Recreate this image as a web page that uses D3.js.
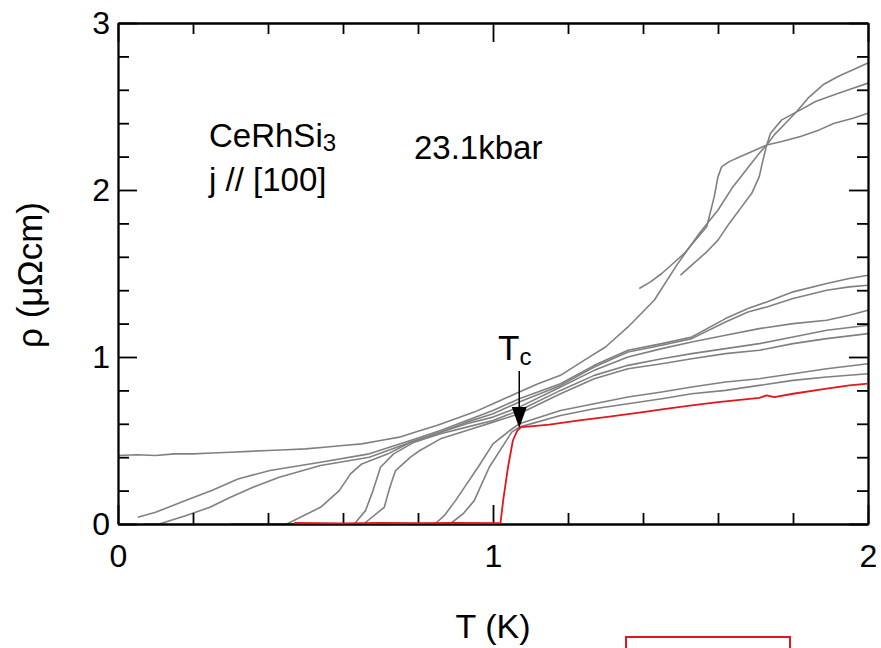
<!DOCTYPE html>
<html>
<head>
<meta charset="utf-8">
<script src="https://cdn.jsdelivr.net/npm/d3@7"></script>
<style>
  html, body { margin: 0; padding: 0; background: #fff; }
  svg { display: block; font-family: "Liberation Sans", Arial, sans-serif; }
</style>
</head>
<body>
<svg id="chart" width="881" height="648"></svg>
<script>
// ---- data: resistivity rho (µΩcm) vs temperature T (K) ----
const curveA = [[0,0.41],[0.05,0.415],[0.1,0.41],[0.15,0.42],[0.2,0.42],[0.25,0.425],[0.3,0.43],[0.35,0.435],[0.4,0.44],[0.45,0.445],[0.5,0.45],[0.55,0.46],[0.6,0.47],[0.65,0.48],[0.7,0.5],[0.75,0.52],[0.8,0.555],[0.85,0.59],[0.9,0.63],[0.95,0.67],[1.0,0.72],[1.07,0.79],[1.12,0.84],[1.18,0.89],[1.25,0.99],[1.3,1.06],[1.36,1.18],[1.43,1.34],[1.49,1.55],[1.55,1.74],[1.6,1.88],[1.64,2.02],[1.71,2.22],[1.73,2.27],[1.75,2.33],[1.78,2.4],[1.81,2.47],[1.84,2.55],[1.88,2.63],[1.92,2.68],[1.96,2.72],[2.0,2.76]];
const curveU1 = [[1.39,1.41],[1.42,1.45],[1.45,1.5],[1.48,1.56],[1.51,1.62],[1.54,1.7],[1.57,1.78],[1.59,1.96],[1.6,2.08],[1.61,2.14],[1.63,2.17],[1.66,2.2],[1.7,2.24],[1.73,2.27],[1.77,2.29],[1.82,2.32],[1.87,2.36],[1.91,2.4],[1.96,2.43],[2.0,2.46]];
const curveU2 = [[1.5,1.49],[1.53,1.55],[1.57,1.63],[1.6,1.7],[1.63,1.8],[1.66,1.89],[1.69,1.98],[1.71,2.08],[1.72,2.18],[1.73,2.27],[1.74,2.34],[1.77,2.42],[1.82,2.48],[1.86,2.53],[1.91,2.57],[1.96,2.61],[2.0,2.64]];
const curveB = [[0.053,0.04],[0.1,0.07],[0.18,0.14],[0.25,0.2],[0.32,0.27],[0.405,0.32],[0.54,0.37],[0.67,0.42],[0.78,0.5],[0.86,0.56],[0.93,0.62],[1.0,0.68],[1.07,0.75],[1.18,0.84],[1.27,0.95],[1.36,1.04],[1.45,1.08],[1.53,1.12],[1.62,1.23],[1.68,1.29],[1.73,1.33],[1.8,1.39],[1.89,1.44],[1.95,1.47],[2.0,1.49]];
const curveC = [[0.07,0.0],[0.11,0.0],[0.18,0.05],[0.245,0.1],[0.3,0.16],[0.36,0.22],[0.43,0.28],[0.54,0.35],[0.67,0.4],[0.78,0.49],[0.86,0.55],[0.93,0.61],[1.0,0.66],[1.07,0.73],[1.18,0.83],[1.27,0.94],[1.36,1.03],[1.45,1.07],[1.53,1.11],[1.62,1.21],[1.68,1.27],[1.73,1.3],[1.8,1.35],[1.89,1.4],[1.95,1.42],[2.0,1.43]];
const curveD = [[0.3,0.0],[0.45,0.0],[0.54,0.1],[0.59,0.2],[0.62,0.3],[0.65,0.36],[0.72,0.42],[0.78,0.49],[0.86,0.55],[0.93,0.6],[1.0,0.64],[1.07,0.7],[1.18,0.82],[1.27,0.92],[1.36,1.0],[1.45,1.05],[1.53,1.09],[1.62,1.13],[1.71,1.17],[1.8,1.2],[1.89,1.22],[1.95,1.25],[2.0,1.28]];
const curveE = [[0.45,0.0],[0.63,0.0],[0.66,0.08],[0.68,0.2],[0.7,0.34],[0.735,0.42],[0.79,0.49],[0.86,0.54],[0.93,0.58],[1.0,0.62],[1.07,0.68],[1.18,0.8],[1.27,0.89],[1.36,0.95],[1.45,0.99],[1.53,1.02],[1.62,1.05],[1.71,1.08],[1.8,1.12],[1.89,1.16],[2.0,1.19]];
const curveF = [[0.5,0.0],[0.655,0.0],[0.71,0.1],[0.725,0.22],[0.74,0.32],[0.78,0.4],[0.805,0.44],[0.86,0.51],[0.93,0.56],[1.0,0.61],[1.07,0.66],[1.18,0.78],[1.27,0.87],[1.36,0.93],[1.45,0.96],[1.53,0.99],[1.62,1.02],[1.71,1.04],[1.8,1.08],[1.89,1.11],[2.0,1.14]];
const curveG = [[0.6,0.0],[0.845,0.0],[0.87,0.05],[0.9,0.14],[0.93,0.24],[0.96,0.34],[1.0,0.48],[1.045,0.56],[1.07,0.6],[1.18,0.68],[1.27,0.72],[1.36,0.76],[1.45,0.79],[1.53,0.82],[1.62,0.85],[1.71,0.87],[1.8,0.9],[1.89,0.93],[2.0,0.96]];
const curveH = [[0.65,0.0],[0.885,0.0],[0.92,0.06],[0.95,0.14],[0.97,0.24],[0.99,0.34],[1.03,0.48],[1.05,0.55],[1.07,0.58],[1.18,0.65],[1.27,0.69],[1.36,0.72],[1.45,0.75],[1.53,0.78],[1.62,0.8],[1.71,0.83],[1.8,0.86],[1.89,0.88],[2.0,0.9]];
const curveRed = [[0.47,0.006],[0.6,0.004],[0.7,0.007],[0.8,0.005],[0.9,0.006],[1.02,0.005],[1.027,0.14],[1.04,0.34],[1.053,0.5],[1.065,0.56],[1.075,0.58],[1.1,0.585],[1.15,0.595],[1.23,0.62],[1.3,0.64],[1.4,0.67],[1.46,0.69],[1.53,0.71],[1.6,0.73],[1.71,0.755],[1.73,0.77],[1.75,0.76],[1.8,0.78],[1.89,0.81],[1.95,0.83],[2.0,0.84]];

const grayCurves = [curveA, curveU1, curveU2, curveB, curveC, curveD, curveE, curveF, curveG, curveH];

const xMajorTicks = [0, 1, 2];
const xMinorTicks = [0.2, 0.4, 0.6, 0.8, 1.2, 1.4, 1.6, 1.8];
const yMajorTicks = [0, 1, 2, 3];
const yMinorTicks = [0.2, 0.4, 0.6, 0.8, 1.2, 1.4, 1.6, 1.8, 2.2, 2.4, 2.6, 2.8];

const xTitle = "T (K)";
const yTitle = "ρ (μΩcm)";
const sampleName = "CeRhSi";
const sampleSub = "3";
const directionLabel = "j // [100]";
const pressureLabel = "23.1kbar";

// ---- drawing ----
const svg = d3.select("#chart");
const x = d3.scaleLinear().domain([0, 2]).range([118, 868]);
const y = d3.scaleLinear().domain([0, 3]).range([524, 23]);

const line = d3.line().x(d => x(d[0])).y(d => y(d[1]));

const plot = svg.append("g");
plot.selectAll("path.gray").data(grayCurves).join("path")
  .attr("class", "gray")
  .attr("d", line)
  .attr("fill", "none")
  .attr("stroke", "#808080")
  .attr("stroke-width", 1.6)
  .attr("stroke-linejoin", "round");

// axes
const majorLen = 19, minorLen = 11, axisW = 1.8;
function styleAxis(g) {
  g.selectAll("path.domain").attr("stroke", "#000").attr("stroke-width", axisW);
  g.selectAll(".tick line").attr("stroke", "#000").attr("stroke-width", axisW);
  g.selectAll(".tick text").attr("fill", "#000").attr("font-size", 32)
    .attr("font-family", "'Liberation Sans', Arial, sans-serif");
}

// bottom
svg.append("g").attr("transform", `translate(0,${y(0)})`)
  .call(d3.axisBottom(x).tickValues(xMinorTicks).tickSizeInner(-minorLen).tickSizeOuter(0).tickFormat(""))
  .call(styleAxis);
svg.append("g").attr("transform", `translate(0,${y(0)})`)
  .call(d3.axisBottom(x).tickValues(xMajorTicks).tickSizeInner(-majorLen).tickSizeOuter(0).tickPadding(20).tickFormat(d3.format("d")))
  .call(styleAxis);
// top
svg.append("g").attr("transform", `translate(0,${y(3)})`)
  .call(d3.axisTop(x).tickValues(xMinorTicks).tickSizeInner(-minorLen).tickSizeOuter(0).tickFormat(""))
  .call(styleAxis);
svg.append("g").attr("transform", `translate(0,${y(3)})`)
  .call(d3.axisTop(x).tickValues(xMajorTicks).tickSizeInner(-majorLen).tickSizeOuter(0).tickFormat(""))
  .call(styleAxis);
// left
svg.append("g").attr("transform", `translate(${x(0)},0)`)
  .call(d3.axisLeft(y).tickValues(yMinorTicks).tickSizeInner(-minorLen).tickSizeOuter(0).tickFormat(""))
  .call(styleAxis);
svg.append("g").attr("transform", `translate(${x(0)},0)`)
  .call(d3.axisLeft(y).tickValues(yMajorTicks).tickSizeInner(-majorLen).tickSizeOuter(0).tickPadding(8).tickFormat(d3.format("d")))
  .call(styleAxis);
// right
svg.append("g").attr("transform", `translate(${x(2)},0)`)
  .call(d3.axisRight(y).tickValues(yMinorTicks).tickSizeInner(-minorLen).tickSizeOuter(0).tickFormat(""))
  .call(styleAxis);
svg.append("g").attr("transform", `translate(${x(2)},0)`)
  .call(d3.axisRight(y).tickValues(yMajorTicks).tickSizeInner(-majorLen).tickSizeOuter(0).tickFormat(""))
  .call(styleAxis);

// red curve on top (its zero part sits just above the axis line)
svg.append("path").datum(curveRed)
  .attr("d", line)
  .attr("fill", "none")
  .attr("stroke", "#e3161b")
  .attr("stroke-width", 1.8)
  .attr("stroke-linejoin", "round");

// axis titles
svg.append("text").attr("x", 493).attr("y", 638).attr("text-anchor", "middle")
  .attr("font-size", 34).text(xTitle);
svg.append("text").attr("transform", "translate(42,275) rotate(-90)").attr("text-anchor", "middle")
  .attr("font-size", 35).text(yTitle);

// annotations
const t1 = svg.append("text").attr("x", 209).attr("y", 147).attr("font-size", 33);
t1.append("tspan").text(sampleName);
t1.append("tspan").attr("font-size", 24).attr("dy", 4).text(sampleSub);
svg.append("text").attr("x", 209).attr("y", 191).attr("font-size", 33).text(directionLabel);
svg.append("text").attr("x", 414).attr("y", 159).attr("font-size", 33).text(pressureLabel);

// Tc label and arrow
const tcT = 1.07, tcRho = 0.575;
const tc = svg.append("text").attr("x", 498).attr("y", 360).attr("font-size", 35);
tc.append("tspan").text("T");
tc.append("tspan").attr("font-size", 24).attr("dy", 5).text("c");
svg.append("line")
  .attr("x1", x(tcT)).attr("x2", x(tcT))
  .attr("y1", 371).attr("y2", y(tcRho) - 18)
  .attr("stroke", "#000").attr("stroke-width", 1.5);
svg.append("path")
  .attr("d", `M${x(tcT) - 7.5},${y(tcRho) - 21} L${x(tcT) + 7.5},${y(tcRho) - 21} L${x(tcT)},${y(tcRho)} Z`)
  .attr("fill", "#000");

// red frame at bottom (partially visible)
svg.append("rect").attr("x", 626).attr("y", 637).attr("width", 164).attr("height", 30)
  .attr("fill", "none").attr("stroke", "#e3161b").attr("stroke-width", 2);
</script>
</body>
</html>
